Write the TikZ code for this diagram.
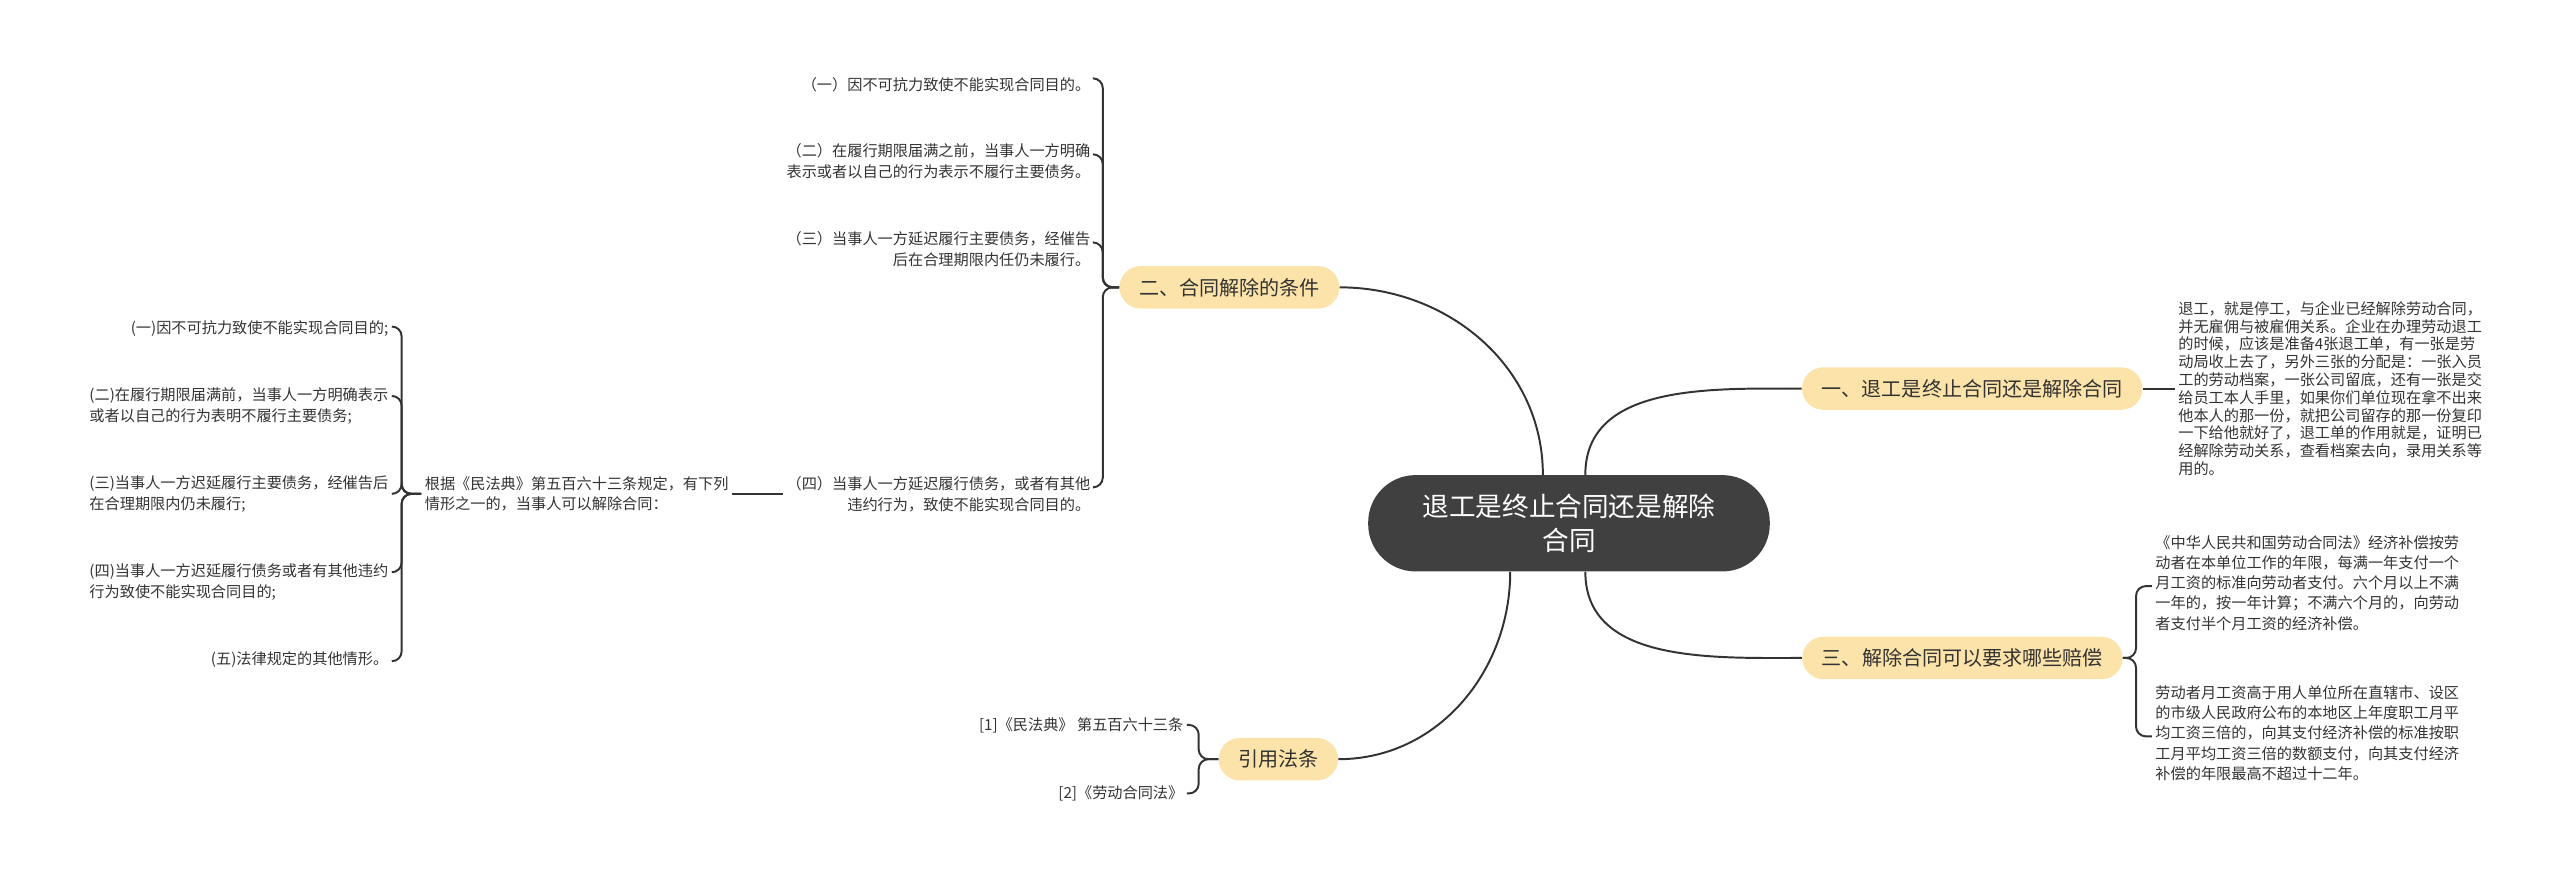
\documentclass[tikz,border=0pt]{standalone}
\usepackage{fontspec}
\setmainfont{Noto Sans CJK SC}
\begin{document}
\begin{tikzpicture}[x=1pt,y=1pt,
  every node/.style={text=black!80},
  pill/.style={fill=pillc,rounded corners=13pt,minimum height=26pt,inner xsep=12pt,font=\fontsize{12.3}{14}\selectfont},
  leafr/.style={align=right,anchor=east,inner sep=2pt,font=\fontsize{9.3}{12.8}\selectfont},
  leafl/.style={align=left,anchor=west,inner sep=2pt,font=\fontsize{9.3}{12.4}\selectfont},
  conn/.style={draw=black!80,line width=1.2pt},
  br/.style={conn,rounded corners=6pt}]
\definecolor{pillc}{HTML}{FCE3A9}
\useasboundingbox (0,0) rectangle (1568,-537);
% center
\node[fill=black!75,text=white,rounded corners=29pt,minimum width=246pt,minimum height=59pt,align=center,font=\fontsize{16.3}{21}\selectfont] (c) at (961,-320.5) {退工是终止合同还是解除\\合同};
% branches
\node[pill] (b1) at (1208,-238) {一、退工是终止合同还是解除合同};
\node[pill] (b3) at (1202,-403) {三、解除合同可以要求哪些赔偿};
\node[pill] (b2) at (753,-176) {二、合同解除的条件};
\node[pill] (b4) at (783,-465) {引用法条};
\draw[conn] ([xshift=-16pt]c.north) to[out=90,in=0] (b2.east);
\draw[conn] ([xshift=10pt]c.north) to[out=90,in=180] (b1.west);
\draw[conn] ([xshift=10pt]c.south) to[out=-90,in=180] (b3.west);
\draw[conn] ([xshift=-36pt]c.south) to[out=-90,in=0] (b4.east);
% branch 1 child
\node[leafl,font=\fontsize{9.3}{10.9}\selectfont] (t1) at (1332,-238) {退工，就是停工，与企业已经解除劳动合同，\\并无雇佣与被雇佣关系。企业在办理劳动退工\\的时候，应该是准备4张退工单，有一张是劳\\动局收上去了，另外三张的分配是：一张入员\\工的劳动档案，一张公司留底，还有一张是交\\给员工本人手里，如果你们单位现在拿不出来\\他本人的那一份，就把公司留存的那一份复印\\一下给他就好了，退工单的作用就是，证明已\\经解除劳动关系，查看档案去向，录用关系等\\用的。};
\draw[conn] (b1.east) -- (t1.west);
% branch 3 children
\node[leafl] (t31) at (1318,-357) {《中华人民共和国劳动合同法》经济补偿按劳\\动者在本单位工作的年限，每满一年支付一个\\月工资的标准向劳动者支付。六个月以上不满\\一年的，按一年计算；不满六个月的，向劳动\\者支付半个月工资的经济补偿。};
\node[leafl] (t32) at (1318,-449) {劳动者月工资高于用人单位所在直辖市、设区\\的市级人民政府公布的本地区上年度职工月平\\均工资三倍的，向其支付经济补偿的标准按职\\工月平均工资三倍的数额支付，向其支付经济\\补偿的年限最高不超过十二年。};
\draw[br] (b3.east) -- ++(8,0) |- ([yshift=-2pt]t31.west);
\draw[br] (b3.east) -- ++(8,0) |- ([yshift=-2pt]t32.west);
% branch 2 children
\node[leafr] (a1) at (670,-52) {（一）因不可抗力致使不能实现合同目的。};
\node[leafr] (a2) at (670,-98.5) {（二）在履行期限届满之前，当事人一方明确\\表示或者以自己的行为表示不履行主要债务。};
\node[leafr] (a3) at (670,-152.5) {（三）当事人一方延迟履行主要债务，经催告\\后在合理期限内任仍未履行。};
\node[leafr] (a4) at (670,-302.5) {（四）当事人一方延迟履行债务，或者有其他\\违约行为，致使不能实现合同目的。};
\foreach \n in {a1,a2,a3,a4}
  \draw[br] (b2.west) -- ++(-10,0) |- ([yshift=4pt]\n.east);
% left group
\node[leafl,align=left] (g) at (258,-302.5) {根据《民法典》第五百六十三条规定，有下列\\情形之一的，当事人可以解除合同：};
\draw[conn] (g.east) -- (a4.west);
\node[leafr,align=left] (l1) at (240,-201) {(一)因不可抗力致使不能实现合同目的;};
\node[leafr,align=left] (l2) at (240,-248.5) {(二)在履行期限届满前，当事人一方明确表示\\或者以自己的行为表明不履行主要债务;};
\node[leafr,align=left] (l3) at (240,-302.5) {(三)当事人一方迟延履行主要债务，经催告后\\在合理期限内仍未履行;};
\node[leafr,align=left] (l4) at (240,-356.5) {(四)当事人一方迟延履行债务或者有其他违约\\行为致使不能实现合同目的;};
\node[leafr,align=left] (l5) at (240,-404) {(五)法律规定的其他情形。};
\draw[br] (g.west) -- ++(-12,0) |- ([yshift=1pt]l1.east);
\draw[br] (g.west) -- ++(-12,0) |- ([yshift=6pt]l2.east);
\draw[br] (g.west) -- ++(-12,0) |- (l3.east);
\draw[br] (g.west) -- ++(-12,0) |- ([yshift=6pt]l4.east);
\draw[br] (g.west) -- ++(-12,0) |- ([yshift=-1pt]l5.east);
% branch 4 children
\node[leafr] (r1) at (727,-444) {[1]《民法典》 第五百六十三条};
\node[leafr] (r2) at (727,-486) {[2]《劳动合同法》};
\draw[br] (b4.west) -- ++(-12,0) |- (r1.east);
\draw[br] (b4.west) -- ++(-12,0) |- (r2.east);
\end{tikzpicture}
\end{document}
